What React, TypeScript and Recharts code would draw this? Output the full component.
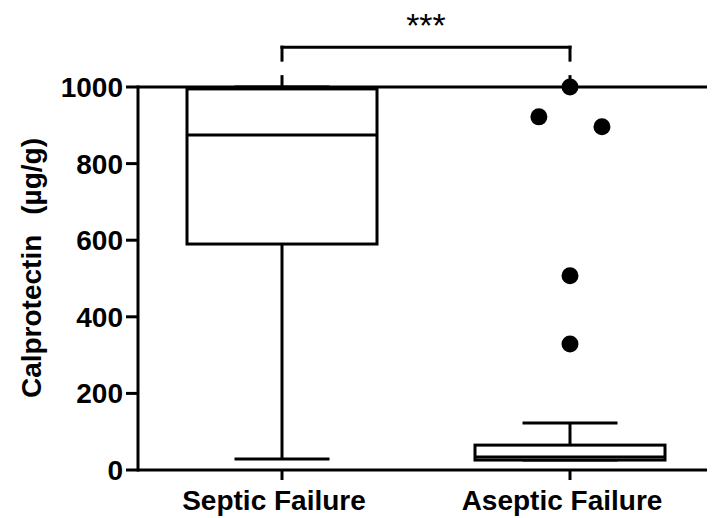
import React from 'react';
import {
  ComposedChart,
  Bar,
  Scatter,
  XAxis,
  YAxis,
  ReferenceLine,
} from 'recharts';

// ---- data ----
const categories = ['Septic Failure', 'Aseptic Failure'];
const whiskerLow = [29, 26];
const q1Values = [590, 26];
const medianValues = [875, 34];
const q3Values = [995, 65];
const whiskerHigh = [1000, 123];

const outlierX = [2, 1.892, 2.111, 2, 2];
const outlierY = [1000, 922, 896, 507, 329];

const yTicks = [0, 200, 400, 600, 800, 1000];
const significance = '***';
const yLabelMain = 'Calprotectin';
const yLabelUnit = '(\u00b5g/g)';

const boxData = categories.map((name, i) => ({
  name,
  range: [whiskerLow[i], whiskerHigh[i]],
  q1: q1Values[i],
  median: medianValues[i],
  q3: q3Values[i],
}));

const outliers = outlierX.map((x, i) => ({ x, y: outlierY[i] }));

const FONT = '"Liberation Sans", Arial, Helvetica, sans-serif';
const SW = 3;

const BoxShape = (props: any) => {
  const { x, y, width, height, payload } = props;
  const [lo, hi] = payload.range;
  const top = Math.min(y, y + height);
  const bottom = Math.max(y, y + height);
  const toPx = (v: number) =>
    hi === lo ? bottom : bottom - ((bottom - top) * (v - lo)) / (hi - lo);
  const cx = x + width / 2;
  const capHalf = width * 0.25;
  const yLo = toPx(lo);
  const yHi = toPx(hi);
  const yQ1 = toPx(payload.q1);
  const yQ3 = toPx(payload.q3);
  const yMed = toPx(payload.median);
  return (
    <g stroke="#000" strokeWidth={SW} fill="none">
      <line x1={cx} x2={cx} y1={yLo} y2={yQ1} />
      <line x1={cx} x2={cx} y1={yQ3} y2={yHi} />
      <line x1={cx - capHalf} x2={cx + capHalf} y1={yLo} y2={yLo} />
      <line x1={cx - capHalf} x2={cx + capHalf} y1={yHi} y2={yHi} />
      <rect x={x} y={yQ3} width={width} height={yQ1 - yQ3} fill="#fff" />
      <line x1={x} x2={x + width} y1={yMed} y2={yMed} />
    </g>
  );
};

const XTick = (props: any) => {
  const { x, y, payload } = props;
  return (
    <text
      x={x - 8}
      y={y}
      dy="0.71em"
      textAnchor="middle"
      fontFamily={FONT}
      fontWeight="bold"
      fontSize={28}
      fill="#000"
    >
      {payload.value}
    </text>
  );
};

const YLabel = () => {
  const cx = 31;
  const cy = 268;
  return (
    <text
      x={cx}
      y={cy}
      transform={`rotate(-90 ${cx} ${cy})`}
      textAnchor="middle"
      dominantBaseline="central"
      fontFamily={FONT}
      fontWeight="bold"
      fontSize={28}
      fill="#000"
    >
      <tspan>{yLabelMain}</tspan>
      <tspan dx={20}>{yLabelUnit}</tspan>
    </text>
  );
};

export default function App() {
  return (
    <div style={{ margin: '-8px 0 0 -8px', width: 715, height: 518, background: '#fff' }}>
      <ComposedChart
        width={715}
        height={518}
        data={boxData}
        margin={{ top: 10.4, right: 1, bottom: 0, left: 0 }}
      >
        <XAxis
          dataKey="name"
          type="category"
          height={48}
          axisLine={{ stroke: '#000', strokeWidth: SW }}
          tickLine={{ stroke: '#000', strokeWidth: SW }}
          tickSize={10}
          tickMargin={10}
          tick={<XTick />}
          interval={0}
        />
        <XAxis
          xAxisId="num"
          dataKey="x"
          type="number"
          domain={[0.5, 2.5]}
          allowDataOverflow
          hide
        />
        <YAxis
          type="number"
          domain={[0, 1200]}
          ticks={yTicks}
          width={138}
          axisLine={false}
          tickLine={{ stroke: '#000', strokeWidth: SW }}
          tickSize={12}
          tickMargin={3}
          interval={0}
          allowDataOverflow
          tick={{ fill: '#000', fontFamily: FONT, fontWeight: 'bold', fontSize: 28 }}
          label={<YLabel />}
        />
        <ReferenceLine
          xAxisId="num"
          y={1000}
          stroke="#000"
          strokeWidth={SW}
          ifOverflow="visible"
        />
        <Bar
          dataKey="range"
          barSize={190}
          shape={<BoxShape />}
          isAnimationActive={false}
        />
        <ReferenceLine
          xAxisId="num"
          segment={[{ x: 0.5, y: 0 }, { x: 0.5, y: 1000 }]}
          stroke="#000"
          strokeWidth={SW}
          strokeLinecap="square"
          ifOverflow="visible"
        />
        <ReferenceLine
          xAxisId="num"
          segment={[{ x: 1, y: 1104 }, { x: 2, y: 1104 }]}
          stroke="#000"
          strokeWidth={SW}
          strokeLinecap="square"
          ifOverflow="visible"
          label={{
            value: significance,
            position: 'top',
            offset: 10,
            fill: '#000',
            fontFamily: FONT,
            fontSize: 34,
          }}
        />
        <ReferenceLine
          xAxisId="num"
          segment={[{ x: 1, y: 1070 }, { x: 1, y: 1104 }]}
          stroke="#000"
          strokeWidth={SW}
          strokeLinecap="square"
          ifOverflow="visible"
        />
        <ReferenceLine
          xAxisId="num"
          segment={[{ x: 2, y: 1070 }, { x: 2, y: 1104 }]}
          stroke="#000"
          strokeWidth={SW}
          strokeLinecap="square"
          ifOverflow="visible"
        />
        <ReferenceLine
          xAxisId="num"
          segment={[{ x: 1, y: 1000 }, { x: 1, y: 1031 }]}
          stroke="#000"
          strokeWidth={SW}
          ifOverflow="visible"
        />
        <ReferenceLine
          xAxisId="num"
          segment={[{ x: 2, y: 1000 }, { x: 2, y: 1031 }]}
          stroke="#000"
          strokeWidth={SW}
          ifOverflow="visible"
        />
        <Scatter
          xAxisId="num"
          data={outliers}
          dataKey="y"
          isAnimationActive={false}
          shape={(p: any) => <circle cx={p.cx} cy={p.cy} r={8.5} fill="#000" />}
        />
      </ComposedChart>
    </div>
  );
}
